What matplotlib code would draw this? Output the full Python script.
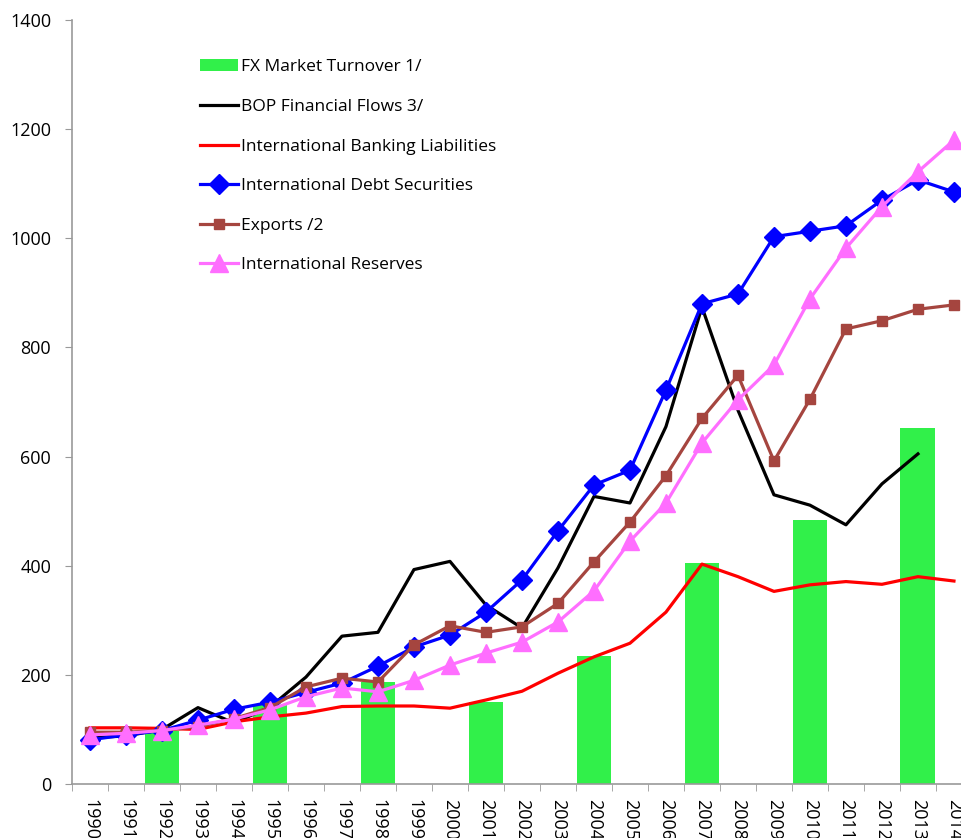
import matplotlib.pyplot as plt
import numpy as np

years = [str(y) for y in range(1990, 2015)]

# FX turnover only every third year (1992, 1995, ...)
fx_years = ["1992", "1995", "1998", "2001", "2004", "2007", "2010", "2013"]
fx_turnover = [98, 145, 187, 150, 235, 405, 484, 652]

bop_flows = [85, 88, 100, 140, 112, 141, 196, 271, 278, 393, 408, 328, 286,
             396, 527, 515, 655, 874, 685, 530, 511, 475, 550, 605]  # ends 2013
bank_liab = [103, 103, 102, 100, 114, 123, 130, 142, 143, 143, 139, 154, 170,
             203, 233, 258, 315, 403, 380, 353, 365, 371, 366, 380, 372]
debt_sec = [81, 90, 98, 117, 137, 150, 168, 185, 216, 251, 273, 315, 374,
            464, 548, 575, 722, 880, 898, 1003, 1013, 1023, 1070, 1107, 1085]
exports = [95, 95, 98, 105, 120, 140, 178, 194, 187, 255, 290, 278, 288,
           331, 407, 480, 565, 670, 749, 592, 705, 834, 849, 870, 878]
reserves = [90, 93, 98, 108, 119, 136, 160, 176, 169, 190, 218, 240, 260,
            297, 354, 445, 515, 625, 704, 768, 889, 982, 1058, 1122, 1180]

plt.rcParams['font.family'] = ['Open Sans', 'DejaVu Sans']

fig = plt.figure(figsize=(9.61, 8.38), dpi=100)
ax = fig.add_axes([0.0749, 0.0644, 0.9365, 0.9117])

x = np.arange(len(years))
fx_x = [years.index(y) for y in fx_years]

ax.bar(fx_x, fx_turnover, width=0.97, color='#31F04A', label='FX Market Turnover 1/', zorder=1)
ax.plot(x[:len(bop_flows)], bop_flows, color='black', lw=2.3, label='BOP Financial Flows 3/', zorder=2)
ax.plot(x, bank_liab, color='#FF0000', lw=2.3, label='International Banking Liabilities', zorder=3)
ax.plot(x, debt_sec, color='#0000FF', lw=2.3, marker='D', ms=10.5, label='International Debt Securities', zorder=4)
ax.plot(x, exports, color='#A5453F', lw=2.3, marker='s', ms=7.5, label='Exports /2', zorder=5)
ax.plot(x, reserves, color='#FF6EFF', lw=2.3, marker='^', ms=13, label='International Reserves', zorder=6)

ax.set_xlim(-0.5, len(years) - 0.5)
ax.set_ylim(0, 1400)
ax.set_yticks(range(0, 1401, 200))

ax.set_xticks(x)
ax.set_xticklabels(years, rotation=270, fontsize=13)
ax.set_xticks(np.arange(-0.5, len(years), 1), minor=True)
ax.tick_params(axis='x', which='major', length=0, pad=11)
ax.tick_params(axis='x', which='minor', length=5, color='#999999')
ax.tick_params(axis='y', length=5, pad=10, color='#999999', labelsize=13)

for s in ['top', 'right']:
    ax.spines[s].set_visible(False)
for s in ['left', 'bottom']:
    ax.spines[s].set_color('#999999')
    ax.spines[s].set_linewidth(1.2)

# legend order as in the original: bars first
h, l = ax.get_legend_handles_labels()
order = [l.index('FX Market Turnover 1/')] + [i for i in range(len(l)) if l[i] != 'FX Market Turnover 1/']
ax.legend([h[i] for i in order], [l[i] for i in order],
          loc='upper left', bbox_to_anchor=(0.125, 0.969), frameon=False,
          fontsize=12.5, handlelength=2.2, handletextpad=0.17, labelspacing=1.35)

fig.savefig('out.png', dpi=100)
